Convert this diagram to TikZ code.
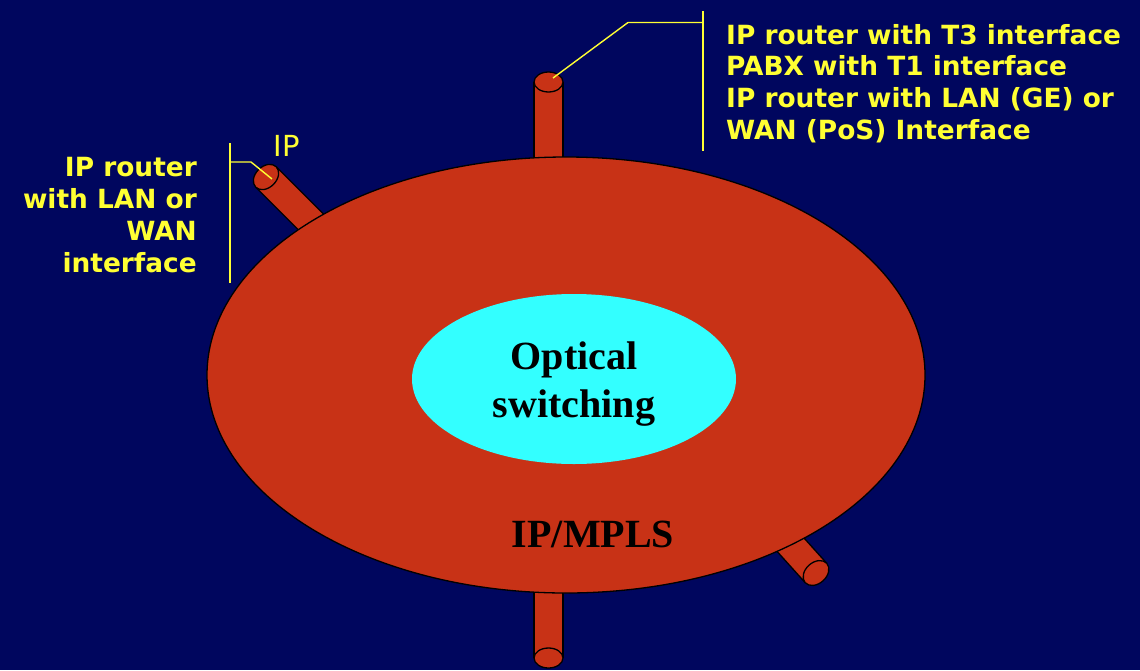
\documentclass[tikz,border=0pt]{standalone}
\usepackage{fontspec}
\setmainfont{Liberation Serif}
\newfontfamily\verd{DejaVu Sans}
\definecolor{bgnavy}{RGB}{0,6,94}
\definecolor{rustred}{RGB}{200,50,22}
\definecolor{aqua}{RGB}{51,255,255}
\definecolor{ylw}{RGB}{255,255,51}
\newcommand\cylbody[3]{%
  \begin{scope}[shift={(#1)},rotate=#2]
    \fill[rustred] (-14.5,0) rectangle (14.5,#3);
    \draw[outline] (-14.5,0) -- (-14.5,#3) (14.5,0) -- (14.5,#3);
  \end{scope}}
\newcommand\cylcap[3]{%
  \begin{scope}[shift={(#1)},rotate=#2]
    \draw[outline,fill=rustred] (0,0) ellipse [x radius=14.5pt, y radius=#3pt];
  \end{scope}}
\begin{document}
\begin{tikzpicture}[x=1pt,y=-1pt,
  outline/.style={draw=black,line width=1.3pt},
  lead/.style={draw=ylw,line width=1.4pt},
  lbl/.style={text=ylw,font=\verd\bfseries\fontsize{26.4}{31}\selectfont,inner sep=0pt},
  big/.style={font=\bfseries\fontsize{40}{48}\selectfont,text=black,inner sep=0pt,align=center}]
\fill[bgnavy] (0,0) rectangle (1140,670);
\useasboundingbox (0,0) rectangle (1140,670);
% cylinder bodies
\cylbody{548.5,82}{0}{120}
\cylbody{266,177}{45}{100}
\cylbody{816,573}{222}{80}
\cylbody{548.5,658}{180}{100}
% main ring
\draw[outline,fill=rustred] (566,375) ellipse [x radius=359pt, y radius=218pt];
% caps
\cylcap{548.5,82}{0}{10}
\cylcap{266,177}{45}{10.5}
\cylcap{816,573}{222}{10.5}
\cylcap{548.5,658}{0}{10}
% inner core
\fill[aqua] (574,379) ellipse [x radius=162pt, y radius=85pt];
\node[big] (core) at (574,384) {Optical\\switching};
\node[big,anchor=base] (mpls) at (593,547) {IP/MPLS};
% labels
\node[lbl,anchor=base west] (r1) at (726,44) {IP router with T3 interface};
\node[lbl,anchor=base west] (r2) at (726,75.7) {PABX with T1 interface};
\node[lbl,anchor=base west] (r3) at (726,107.4) {IP router with LAN (GE) or};
\node[lbl,anchor=base west] (r4) at (726,139) {WAN (PoS) Interface};
\node[lbl,anchor=base east] (l1) at (197,176) {IP router};
\node[lbl,anchor=base east] (l2) at (197,208) {with LAN or};
\node[lbl,anchor=base east] (l3) at (197,240) {WAN};
\node[lbl,anchor=base east] (l4) at (197,272) {interface};
\node[text=ylw,font=\verd\fontsize{29}{32}\selectfont,inner sep=0pt,anchor=base] (ip) at (287,156) {IP};
% leader lines
\coordinate (topcap) at (553,78);
\coordinate (tbend) at (628,22.5);
\coordinate (tbar) at (703,22.5);
\coordinate (tbartop) at (703,11);
\coordinate (tbarbot) at (703,151);
\draw[lead] (topcap) -- (tbend) -- (tbar);
\draw[lead] (tbartop) -- (tbarbot);
\coordinate (lcap) at (272,179);
\coordinate (lbend) at (251,162);
\coordinate (lbar) at (230,162);
\coordinate (lbartop) at (230,143);
\coordinate (lbarbot) at (230,283);
\draw[lead] (lcap) -- (lbend) -- (lbar);
\draw[lead] (lbartop) -- (lbarbot);
\end{tikzpicture}
\end{document}
